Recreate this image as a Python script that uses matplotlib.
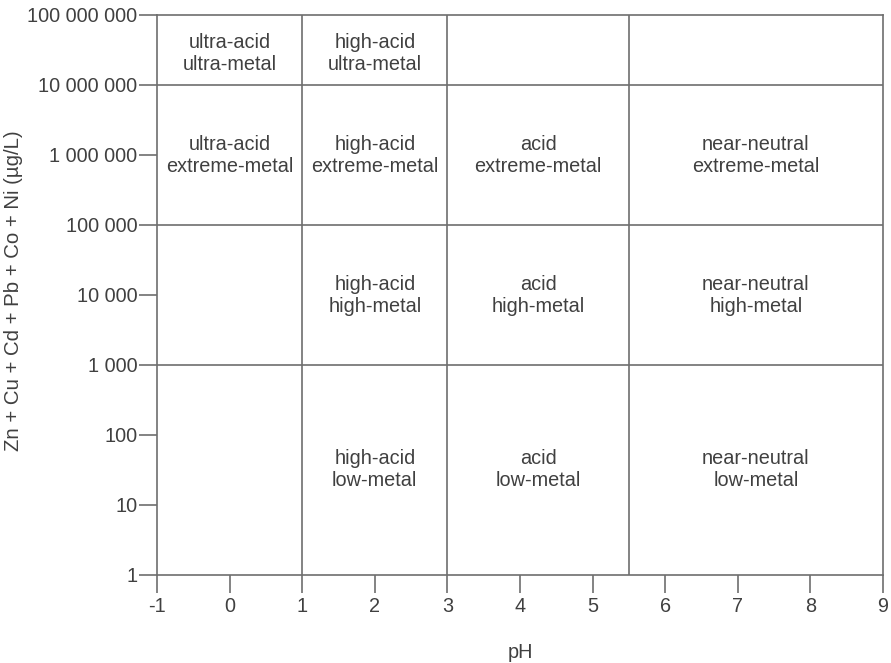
import matplotlib.pyplot as plt

plt.rcParams['font.family'] = ['Liberation Sans', 'DejaVu Sans']

# Ficklin diagram boundaries
ph_bounds = [-1, 1, 3, 5.5, 9]
metal_bounds = [1, 1e3, 1e5, 1e7, 1e8]

# cell labels: (x centre, y centre, text)
cells = [
    (0, 10**7.45, 'ultra-acid\nultra-metal'),
    (2, 10**7.45, 'high-acid\nultra-metal'),
    (0, 1e6, 'ultra-acid\nextreme-metal'),
    (2, 1e6, 'high-acid\nextreme-metal'),
    (4.25, 1e6, 'acid\nextreme-metal'),
    (7.25, 1e6, 'near-neutral\nextreme-metal'),
    (2, 1e4, 'high-acid\nhigh-metal'),
    (4.25, 1e4, 'acid\nhigh-metal'),
    (7.25, 1e4, 'near-neutral\nhigh-metal'),
    (2, 10**1.5, 'high-acid\nlow-metal'),
    (4.25, 10**1.5, 'acid\nlow-metal'),
    (7.25, 10**1.5, 'near-neutral\nlow-metal'),
]

x_ticks = list(range(-1, 10))
y_ticks = [1, 10, 100, 1e3, 1e4, 1e5, 1e6, 1e7, 1e8]
y_labels = ['1', '10', '100', '1 000', '10 000', '100 000',
            '1 000 000', '10 000 000', '100 000 000']

line_col = '#6e6e6e'
text_col = '#404040'
fs = 14.3

fig = plt.figure(figsize=(8.91, 6.63), dpi=100)
ax = fig.add_axes([157 / 891, 88 / 663, 726 / 891, 560 / 663])

ax.set_xlim(-1, 9)
ax.set_yscale('log')
ax.set_ylim(1, 1e8)

# inner boundaries
for x in ph_bounds[1:-1]:
    ax.plot([x, x], [1, 1e8], color=line_col, lw=1.2)
for y in metal_bounds[1:-1]:
    ax.plot([-1, 9], [y, y], color=line_col, lw=1.2)

for x, y, t in cells:
    ax.text(x, y, t, ha='center', va='center', fontsize=fs,
            color=text_col, linespacing=1.2)

for s in ax.spines.values():
    s.set_color(line_col)
    s.set_linewidth(1.2)

ax.set_xticks(x_ticks)
ax.set_xticklabels([str(v) for v in x_ticks])
ax.set_yticks(y_ticks)
ax.set_yticklabels(y_labels)
ax.minorticks_off()
ax.tick_params(axis='both', direction='out', length=13, width=1.2,
               color=line_col, labelcolor=text_col, labelsize=fs)
ax.tick_params(axis='y', pad=1)
ax.tick_params(axis='x', pad=3)

ax.set_xlabel('pH', fontsize=fs, color=text_col, va='center')
ax.xaxis.set_label_coords(0.501, -0.139)
ax.set_ylabel('Zn + Cu + Cd + Pb + Co + Ni (µg/L)', fontsize=14.7,
              color=text_col, va='center')
ax.yaxis.set_label_coords(-0.197, 0.507)

fig.savefig('out.png', dpi=100)
